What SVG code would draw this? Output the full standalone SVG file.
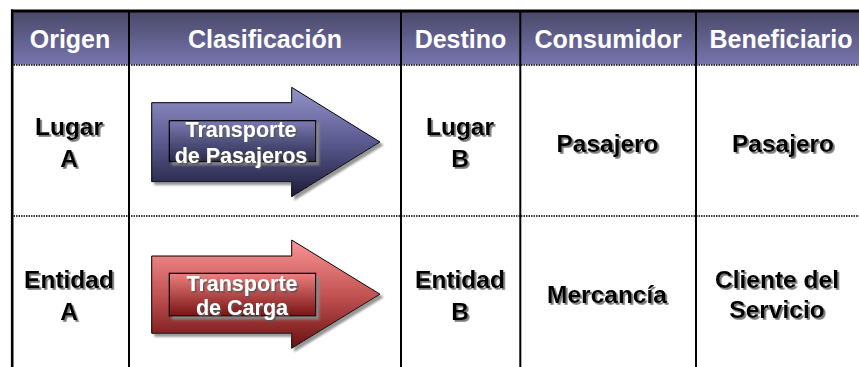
<svg xmlns="http://www.w3.org/2000/svg" width="859" height="367" viewBox="0 0 859 367">
  <defs>
    <linearGradient id="hdrGrad" x1="0" y1="0" x2="0" y2="1">
      <stop offset="0" stop-color="#4a4969"/>
      <stop offset="1" stop-color="#7775ae"/>
    </linearGradient>
    <linearGradient id="blueGrad" x1="0" y1="0" x2="0" y2="1">
      <stop offset="0" stop-color="#9494ca"/>
      <stop offset="0.5" stop-color="#5a5a90"/>
      <stop offset="1" stop-color="#1c1c3a"/>
    </linearGradient>
    <linearGradient id="blueInner" x1="0" y1="0" x2="0" y2="1">
      <stop offset="0" stop-color="#7a7ab2"/>
      <stop offset="1" stop-color="#2a2a4e"/>
    </linearGradient>
    <linearGradient id="redGrad" x1="0" y1="0" x2="0" y2="1">
      <stop offset="0" stop-color="#fa9494"/>
      <stop offset="0.5" stop-color="#c45454"/>
      <stop offset="1" stop-color="#6a1010"/>
    </linearGradient>
    <linearGradient id="redInner" x1="0" y1="0" x2="0" y2="1">
      <stop offset="0" stop-color="#ec8080"/>
      <stop offset="1" stop-color="#7a1414"/>
    </linearGradient>
    <filter id="txtShadow" x="-10%" y="-20%" width="120%" height="150%">
      <feDropShadow dx="1.8" dy="1.8" stdDeviation="0.6" flood-color="#6a6a6a" flood-opacity="0.9"/>
    </filter>
    <filter id="whiteShadow" x="-10%" y="-20%" width="120%" height="150%">
      <feDropShadow dx="1.5" dy="1.8" stdDeviation="0.6" flood-color="#555" flood-opacity="0.85"/>
    </filter>
    <filter id="shapeShadow" x="-10%" y="-10%" width="125%" height="125%">
      <feDropShadow dx="3" dy="3" stdDeviation="0.8" flood-color="#8a8a8a" flood-opacity="0.9"/>
    </filter>
    <style>
      .hdr { font-family: "Liberation Sans", Arial, sans-serif; font-weight: bold; font-size: 25px; fill: #ffffff; text-anchor: middle; }
      .cell { font-family: "Liberation Sans", Arial, sans-serif; font-weight: bold; font-size: 24.5px; fill: #000000; text-anchor: middle; filter: url(#txtShadow); }
      .arr { font-family: "Liberation Sans", Arial, sans-serif; font-weight: bold; font-size: 21.5px; fill: #ffffff; text-anchor: middle; filter: url(#whiteShadow); }
      .vline { stroke: #000; stroke-width: 2; fill: none; }
      .dots { stroke: #000; stroke-width: 1.5; stroke-dasharray: 1.5 1; fill: none; }
      .arrowShape { stroke: #000; stroke-width: 1; filter: url(#shapeShadow); }
      .inner { stroke: #000; stroke-width: 1.2; filter: url(#shapeShadow); }
    </style>
  </defs>

  <rect x="0" y="0" width="859" height="367" fill="#ffffff"/>

  <!-- header band -->
  <g id="header">
    <rect x="13" y="12" width="846" height="52.5" fill="url(#hdrGrad)"/>
    <text class="hdr" x="70" y="47.5">Origen</text>
    <text class="hdr" x="265" y="47.5">Clasificación</text>
    <text class="hdr" x="460.5" y="47.5">Destino</text>
    <text class="hdr" x="608" y="47.5">Consumidor</text>
    <text class="hdr" x="781" y="47.5">Beneficiario</text>
  </g>

  <!-- grid lines -->
  <g id="connectors">
    <line x1="11" y1="11" x2="859" y2="11" stroke="#000" stroke-width="3"/>
    <line x1="12.2" y1="9.5" x2="12.2" y2="367" stroke="#000" stroke-width="2.6"/>
    <line class="vline" x1="129" y1="12" x2="129" y2="367"/>
    <line class="vline" x1="401" y1="12" x2="401" y2="367"/>
    <line class="vline" x1="520.3" y1="12" x2="520.3" y2="367"/>
    <line class="vline" x1="696" y1="12" x2="696" y2="367"/>
    <line class="dots" x1="13.5" y1="65" x2="859" y2="65"/>
    <line class="dots" x1="13.5" y1="216" x2="859" y2="216"/>
  </g>

  <!-- row 1 -->
  <g id="origen-1"><text class="cell" x="69" y="135">Lugar<tspan x="69" y="166.5">A</tspan></text></g>
  <g id="clasificacion-1">
    <path class="arrowShape" fill="url(#blueGrad)" d="M151.7,102.7 L291.7,102.7 L291.7,87.3 L380,142 L291.7,196.7 L291.7,181.7 L151.7,181.7 Z"/>
    <rect class="inner" x="169.3" y="120.7" width="146.4" height="41" fill="url(#blueInner)"/>
    <text class="arr" x="241" y="137.3">Transporte<tspan x="241" y="162.7">de Pasajeros</tspan></text>
  </g>
  <g id="destino-1"><text class="cell" x="460" y="135">Lugar<tspan x="460" y="166.5">B</tspan></text></g>
  <g id="consumidor-1"><text class="cell" x="607.5" y="151.5">Pasajero</text></g>
  <g id="beneficiario-1"><text class="cell" x="783" y="151.5">Pasajero</text></g>

  <!-- row 2 -->
  <g id="origen-2"><text class="cell" x="69" y="288.3">Entidad<tspan x="69" y="320">A</tspan></text></g>
  <g id="clasificacion-2">
    <path class="arrowShape" fill="url(#redGrad)" d="M151.7,256 L291.7,256 L291.7,240 L380,294.2 L291.7,348.3 L291.7,333.3 L151.7,333.3 Z"/>
    <rect class="inner" x="169.3" y="273.3" width="146.4" height="42.7" fill="url(#redInner)"/>
    <text class="arr" x="242" y="290.7">Transporte<tspan x="242" y="315">de Carga</tspan></text>
  </g>
  <g id="destino-2"><text class="cell" x="460" y="288.3">Entidad<tspan x="460" y="320">B</tspan></text></g>
  <g id="consumidor-2"><text class="cell" x="607" y="303.3">Mercancía</text></g>
  <g id="beneficiario-2"><text class="cell" x="777" y="288.3">Cliente del<tspan x="777" y="318.3">Servicio</tspan></text></g>
</svg>
